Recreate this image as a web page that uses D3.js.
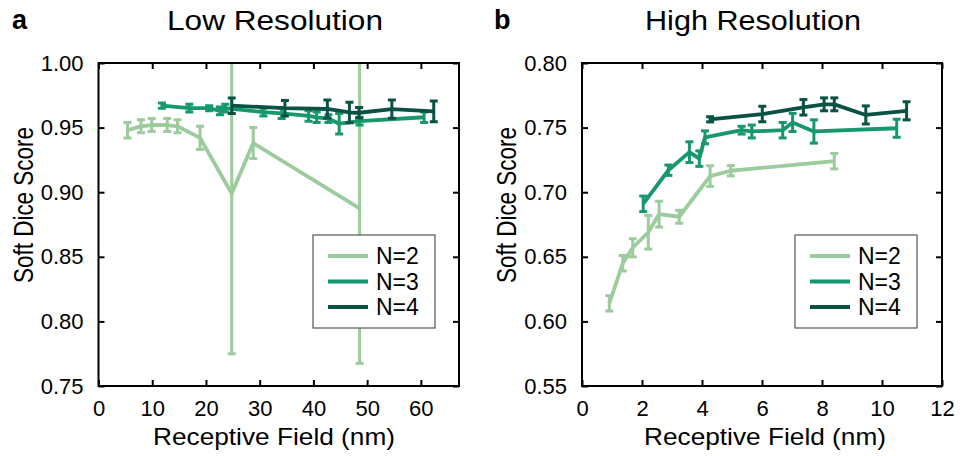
<!DOCTYPE html>
<html lang="en">
<head>
    <meta charset="UTF-8">
    <title>Soft Dice vs receptive field</title>
    <script src="https://cdn.jsdelivr.net/npm/d3@7/dist/d3.min.js"></script>
    <style>
        body { margin: 0; background: #fff; }
        svg text { font-family: "Liberation Sans", Arial, sans-serif; fill: #000; }
        .axis line { stroke: #000; stroke-width: 2; }
        .axis path { display: none; }
        .axis text { font-size: 22px; }
    </style>
</head>
<body>
<script>
    //series names + colours
    var seriesNames = ['N=2', 'N=3', 'N=4'];
    var colors = ['#9ccb9d', '#17986a', '#0a5244'];

    //low resolution panel
    var lowX2 = [5.4, 7.9, 9.9, 12.8, 14.7, 18.9, 24.8, 28.8, 48.6];
    var lowY2 = [0.948, 0.951, 0.952, 0.952, 0.951, 0.942, 0.899, 0.938, 0.8875];
    var lowE2 = [0.006, 0.005, 0.005, 0.005, 0.005, 0.009, 0.124, 0.012, 0.12];

    var lowX3 = [11.8, 16.9, 20.6, 22.6, 23.6, 30.7, 34.1, 39.1, 40.6, 42.8, 44.8, 48.6, 60.6];
    var lowY3 = [0.967, 0.965, 0.965, 0.963, 0.965, 0.962, 0.961, 0.959, 0.958, 0.957, 0.953, 0.955, 0.958];
    var lowE3 = [0.002, 0.003, 0.002, 0.003, 0.003, 0.003, 0.004, 0.004, 0.004, 0.003, 0.008, 0.003, 0.004];

    var lowX4 = [24.8, 34.7, 42.6, 46.7, 48.5, 54.6, 62.4];
    var lowY4 = [0.967, 0.965, 0.9644, 0.9617, 0.9615, 0.9643, 0.9625];
    var lowE4 = [0.006, 0.006, 0.007, 0.008, 0.004, 0.007, 0.008];

    //high resolution panel
    var highX2 = [0.91, 1.36, 1.69, 2.21, 2.57, 3.24, 4.27, 4.96, 8.41];
    var highY2 = [0.614, 0.645, 0.657, 0.669, 0.683, 0.681, 0.7125, 0.7166, 0.724];
    var highE2 = [0.006, 0.006, 0.007, 0.013, 0.01, 0.005, 0.008, 0.004, 0.006];

    var highX3 = [2.04, 2.88, 3.58, 3.91, 4.1, 5.32, 5.66, 6.69, 7.02, 7.73, 10.49];
    var highY3 = [0.691, 0.717, 0.731, 0.726, 0.7425, 0.748, 0.747, 0.748, 0.754, 0.747, 0.7495];
    var highE3 = [0.006, 0.004, 0.008, 0.006, 0.005, 0.003, 0.005, 0.006, 0.007, 0.009, 0.007];

    var highX4 = [4.27, 6.01, 7.38, 8.07, 8.41, 9.46, 10.82];
    var highY4 = [0.7564, 0.7605, 0.7657, 0.768, 0.768, 0.7598, 0.763];
    var highE4 = [0.002, 0.006, 0.006, 0.005, 0.005, 0.007, 0.007];

    //ticks
    var lowXTicks = [0, 10, 20, 30, 40, 50, 60];
    var lowYTicks = [0.75, 0.80, 0.85, 0.90, 0.95, 1.00];
    var highXTicks = [0, 2, 4, 6, 8, 10, 12];
    var highYTicks = [0.55, 0.60, 0.65, 0.70, 0.75, 0.80];

    var w = 960;
    var h = 456;

    var svg = d3.select('body')
                .append('svg')
                .attr('width', w)
                .attr('height', h);

    function zip(xs, ys, es) {
        return xs.map(function(x, i) { return {x: x, y: ys[i], e: es[i]}; });
    }

    function drawPanel(cfg) {
        var xScale = d3.scaleLinear().domain(cfg.xDomain).range([cfg.left, cfg.right]);
        var yScale = d3.scaleLinear().domain(cfg.yDomain).range([cfg.bottom, cfg.top]);

        var clipId = 'clip-' + cfg.letter;
        svg.append('clipPath').attr('id', clipId)
            .append('rect')
            .attr('x', cfg.left).attr('y', cfg.top)
            .attr('width', cfg.right - cfg.left)
            .attr('height', cfg.bottom - cfg.top);

        var plot = svg.append('g').attr('clip-path', 'url(#' + clipId + ')');

        var line = d3.line()
                     .x(function(d) { return xScale(d.x); })
                     .y(function(d) { return yScale(d.y); });

        cfg.series.forEach(function(data, si) {
            var g = plot.append('g');
            var col = colors[si];

            //error bars
            var eb = g.selectAll('g.eb')
                      .data(data)
                      .enter()
                      .append('g');
            eb.append('line')
              .attr('x1', function(d) { return xScale(d.x); })
              .attr('x2', function(d) { return xScale(d.x); })
              .attr('y1', function(d) { return yScale(d.y - d.e); })
              .attr('y2', function(d) { return yScale(d.y + d.e); })
              .attr('stroke', col).attr('stroke-width', 3);
            [-1, 1].forEach(function(s) {
                eb.append('line')
                  .attr('x1', function(d) { return xScale(d.x) - 4; })
                  .attr('x2', function(d) { return xScale(d.x) + 4; })
                  .attr('y1', function(d) { return yScale(d.y + s * d.e); })
                  .attr('y2', function(d) { return yScale(d.y + s * d.e); })
                  .attr('stroke', col).attr('stroke-width', 3);
            });

            g.append('path')
             .datum(data)
             .attr('d', line)
             .attr('fill', 'none')
             .attr('stroke', col)
             .attr('stroke-width', 3.8)
             .attr('stroke-linejoin', 'round');
        });

        //axes: labels bottom/left, inward ticks on all four sides
        svg.append('g')
           .attr('class', 'axis')
           .attr('transform', 'translate(0,' + cfg.bottom + ')')
           .call(d3.axisBottom(xScale).tickValues(cfg.xTicks).tickSizeInner(-6).tickSizeOuter(0)
                 .tickPadding(14).tickFormat(d3.format('d')));
        svg.append('g')
           .attr('class', 'axis')
           .attr('transform', 'translate(0,' + cfg.top + ')')
           .call(d3.axisTop(xScale).tickValues(cfg.xTicks).tickSizeInner(-6).tickSizeOuter(0)
                 .tickFormat(''));
        svg.append('g')
           .attr('class', 'axis')
           .attr('transform', 'translate(' + cfg.left + ',0)')
           .call(d3.axisLeft(yScale).tickValues(cfg.yTicks).tickSizeInner(-6).tickSizeOuter(0)
                 .tickPadding(15).tickFormat(d3.format('.2f')));
        svg.append('g')
           .attr('class', 'axis')
           .attr('transform', 'translate(' + cfg.right + ',0)')
           .call(d3.axisRight(yScale).tickValues(cfg.yTicks).tickSizeInner(-6).tickSizeOuter(0)
                 .tickFormat(''));

        //frame
        svg.append('rect')
           .attr('x', cfg.left).attr('y', cfg.top)
           .attr('width', cfg.right - cfg.left)
           .attr('height', cfg.bottom - cfg.top)
           .attr('fill', 'none')
           .attr('stroke', '#000')
           .attr('stroke-width', 2);

        //texts (the original figure is a little wider than tall, so text is stretched)
        svg.append('text')
           .text(cfg.title)
           .attr('x', cfg.titleX)
           .attr('y', 30)
           .attr('text-anchor', 'middle')
           .attr('font-size', '27px')
           .attr('textLength', 216)
           .attr('lengthAdjust', 'spacingAndGlyphs');
        svg.append('text')
           .text(cfg.letter)
           .attr('x', cfg.letterX)
           .attr('y', 29)
           .attr('font-size', '27px')
           .attr('font-weight', 'bold');
        svg.append('text')
           .text('Receptive Field (nm)')
           .attr('x', cfg.xTitleX)
           .attr('y', 445)
           .attr('text-anchor', 'middle')
           .attr('font-size', '24px')
           .attr('textLength', 242)
           .attr('lengthAdjust', 'spacingAndGlyphs');
        svg.append('text')
           .text('Soft Dice Score')
           .attr('transform', 'translate(' + (cfg.left - 66) + ',205) rotate(-90)')
           .attr('text-anchor', 'middle')
           .attr('font-size', '28px')
           .attr('textLength', 156)
           .attr('lengthAdjust', 'spacingAndGlyphs');

        //legend
        var lg = svg.append('g').attr('transform', 'translate(' + cfg.legendX + ',235)');
        lg.append('rect')
          .attr('width', 122).attr('height', 93)
          .attr('fill', '#fff')
          .attr('stroke', '#555')
          .attr('stroke-width', 1.2);
        seriesNames.forEach(function(name, i) {
            var yy = 21 + i * 25.5;
            lg.append('line')
              .attr('x1', 15).attr('x2', 55)
              .attr('y1', yy).attr('y2', yy)
              .attr('stroke', colors[i]).attr('stroke-width', 4);
            lg.append('text')
              .text(name)
              .attr('x', 63).attr('y', yy + 8)
              .attr('font-size', '23px');
        });
    }

    drawPanel({
        letter: 'a', letterX: 12, title: 'Low Resolution', titleX: 275, xTitleX: 274,
        left: 98.5, right: 459, top: 63, bottom: 386,
        xDomain: [0, 67.1], yDomain: [0.75, 1.0],
        xTicks: lowXTicks, yTicks: lowYTicks,
        legendX: 313,
        series: [zip(lowX2, lowY2, lowE2), zip(lowX3, lowY3, lowE3), zip(lowX4, lowY4, lowE4)]
    });

    drawPanel({
        letter: 'b', letterX: 494, title: 'High Resolution', titleX: 753, xTitleX: 765,
        left: 582, right: 942, top: 63, bottom: 386,
        xDomain: [0, 12], yDomain: [0.55, 0.80],
        xTicks: highXTicks, yTicks: highYTicks,
        legendX: 795,
        series: [zip(highX2, highY2, highE2), zip(highX3, highY3, highE3), zip(highX4, highY4, highE4)]
    });
</script>
</body>
</html>
